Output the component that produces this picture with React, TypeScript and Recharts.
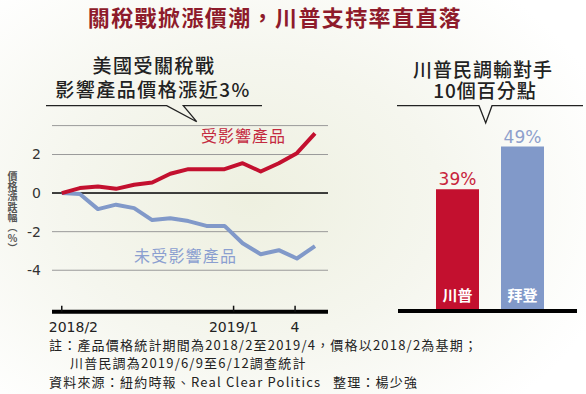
import React from 'react'
import {
  LineChart,
  Line,
  XAxis,
  YAxis,
  CartesianGrid,
  ReferenceLine,
  BarChart,
  Bar,
  Cell,
  LabelList,
} from 'recharts'

// Monthly price index change (%), base 2018/2
const months = [
  '2018/2', '2018/3', '2018/4', '2018/5', '2018/6', '2018/7', '2018/8', '2018/9',
  '2018/10', '2018/11', '2018/12', '2019/1', '2019/2', '2019/3', '2019/4',
]
const affected = [0, 0.26, 0.34, 0.22, 0.43, 0.55, 1.0, 1.24, 1.24, 1.24, 1.55, 1.12, 1.55, 2.07, 3.1]
const unaffected = [0, -0.05, -0.83, -0.6, -0.78, -1.4, -1.3, -1.45, -1.7, -1.7, -2.6, -3.17, -2.96, -3.39, -2.75]
const yTicks = [-4, -2, 0, 2]
// tick positions as drawn in the source graphic (month index)
const xTickPos = [0, 9.5, 12.9]
const xTickLabels = ['2018/2', '2019/1', '4']

// Poll
const candidates = ['川普', '拜登']
const support = [39, 49]

const RED = '#c3102f'
const BLUE = '#8199c9'
const CJK = '"Noto Sans CJK TC", "Noto Sans CJK SC", sans-serif'
const NUM = '"DejaVu Sans", sans-serif'

const lineData = months.map((m, i) => ({
  idx: i,
  month: m,
  affected: affected[i],
  unaffected: unaffected[i],
}))

const barData = candidates.map((name, i) => ({ name, value: support[i] }))
const barColors = [RED, BLUE]
const barLabelColors = ['#c8243c', '#8ea0cc']

function MonthTick(props: any) {
  const { x, y, payload } = props
  const i = xTickPos.indexOf(payload.value)
  const label = xTickLabels[i] ?? ''
  return (
    <g>
      <line x1={x} y1={y - 6} x2={x} y2={y} stroke="#111" strokeWidth={1.5} />
      <text
        x={i === 0 ? x - 13 : x}
        y={y + 20}
        textAnchor={i === 0 ? 'start' : 'middle'}
        fontFamily={NUM}
        fontSize={14}
        fill="#222"
      >
        {label}
      </text>
    </g>
  )
}

function ValueLabel(props: any) {
  const { x, y, width, value, index } = props
  const i = typeof index === 'number' ? index : support.indexOf(value)
  return (
    <text
      x={x + width / 2}
      y={y - 4}
      textAnchor="middle"
      fontFamily={NUM}
      fontSize={17}
      fill={barLabelColors[i] ?? RED}
    >
      {value}%
    </text>
  )
}

function PriceChart() {
  return (
    <div style={{ position: 'absolute', left: 0, top: 0 }}>
      <LineChart
        width={340}
        height={360}
        data={lineData}
        margin={{ top: 125.6, right: 12, bottom: 18.3, left: 0 }}
      >
        <CartesianGrid vertical={false} stroke="#9a9a9a" strokeWidth={1} />
        <XAxis
          dataKey="idx"
          type="number"
          domain={[-0.54, 14.72]}
          ticks={xTickPos}
          height={30}
          axisLine={{ stroke: '#000', strokeWidth: 4 }}
          tickLine={false}
          tickSize={0}
          tickMargin={0}
          tick={<MonthTick />}
          allowDataOverflow
        />
        <YAxis
          type="number"
          domain={[-6.15, 3.5]}
          ticks={yTicks}
          width={52}
          axisLine={false}
          tickLine={false}
          tickSize={0}
          tickMargin={11}
          tick={{ fontFamily: NUM, fontSize: 14, fill: '#333' }}
          allowDataOverflow
        />
        <ReferenceLine y={0} stroke="#111" strokeWidth={1.5} />
        <Line
          type="linear"
          dataKey="unaffected"
          stroke={BLUE}
          strokeWidth={4}
          strokeLinejoin="round"
          dot={false}
          isAnimationActive={false}
        />
        <Line
          type="linear"
          dataKey="affected"
          stroke={RED}
          strokeWidth={4}
          strokeLinejoin="round"
          dot={false}
          isAnimationActive={false}
        />
      </LineChart>
    </div>
  )
}

function PollChart() {
  return (
    <div style={{ position: 'absolute', left: 380, top: 0 }}>
      <BarChart
        width={206}
        height={360}
        data={barData}
        margin={{ top: 130, right: 9, bottom: 19, left: 18 }}
      >
        <XAxis
          dataKey="name"
          height={30}
          padding={{ left: 27, right: 22 }}
          axisLine={{ stroke: '#000', strokeWidth: 4 }}
          tickLine={false}
          tick={false}
        />
        <YAxis hide domain={[10.4, 52.9]} allowDataOverflow />
        <Bar dataKey="value" barSize={43} isAnimationActive={false}>
          {barData.map((d, i) => (
            <Cell key={d.name} fill={barColors[i]} />
          ))}
          <LabelList dataKey="value" content={<ValueLabel />} />
          <LabelList
            dataKey="name"
            position="insideBottom"
            offset={10}
            fill="#fff"
            fontFamily={CJK}
            fontWeight={700}
            fontSize={15}
          />
        </Bar>
      </BarChart>
    </div>
  )
}

const textBase: React.CSSProperties = {
  position: 'absolute',
  fontFamily: CJK,
  whiteSpace: 'nowrap',
}

const heading: React.CSSProperties = {
  ...textBase,
  textAlign: 'center',
  fontSize: 19,
  lineHeight: '20px',
  fontWeight: 500,
  color: '#222',
}

const note: React.CSSProperties = {
  ...textBase,
  fontSize: 13,
  lineHeight: '15px',
  letterSpacing: 1.2,
  color: '#222',
}

export default function App() {
  return (
    <div
      style={{
        position: 'absolute',
        left: 0,
        top: 0,
        width: 586,
        height: 394,
        overflow: 'hidden',
        background:
          'radial-gradient(ellipse 380px 280px at 250px 200px, #eef0e0 0%, #f5f6ee 50%, #ffffff 100%)',
      }}
    >
      {/* main title */}
      <div
        style={{
          ...textBase,
          left: 0,
          width: 550,
          top: 2,
          textAlign: 'center',
          fontSize: 22,
          lineHeight: '28px',
          fontWeight: 700,
          letterSpacing: 1.4,
          color: '#8e1b2b',
        }}
      >
        關稅戰掀漲價潮，川普支持率直直落
      </div>

      {/* left heading */}
      <div style={{ ...heading, left: 0, width: 308, top: 55, letterSpacing: 1.5 }}>
        美國受關稅戰
      </div>
      <div style={{ ...heading, left: 0, width: 306, top: 79, letterSpacing: 1.5 }}>
        影響產品價格漲近3%
      </div>

      {/* right heading */}
      <div style={{ ...heading, left: 380, width: 206, top: 59, letterSpacing: 1 }}>
        川普民調輸對手
      </div>
      <div style={{ ...heading, left: 382, width: 206, top: 80, letterSpacing: 1 }}>
        10個百分點
      </div>

      <PriceChart />
      <PollChart />

      {/* callout rules */}
      <svg
        width={586}
        height={394}
        style={{ position: 'absolute', left: 0, top: 0, pointerEvents: 'none' }}
      >
        <path
          d="M46 105.7 H166.7 L196.7 121.7 L183.3 105.7 H262"
          fill="none"
          stroke="#222"
          strokeWidth={1.3}
        />
        <path
          d="M397 105.7 H479 L485.7 123 L492 105.7 H583"
          fill="none"
          stroke="#222"
          strokeWidth={1.3}
        />
      </svg>

      {/* series labels */}
      <div
        style={{
          ...textBase,
          left: 201,
          top: 124,
          fontSize: 16,
          lineHeight: '22px',
          letterSpacing: 1,
          color: '#c42a3f',
        }}
      >
        受影響產品
      </div>
      <div
        style={{
          ...textBase,
          left: 134,
          top: 244,
          fontSize: 16,
          lineHeight: '22px',
          letterSpacing: 1.2,
          color: '#8b9fd0',
        }}
      >
        未受影響產品
      </div>

      {/* y axis title */}
      <div
        style={{
          ...textBase,
          left: 6,
          top: 171,
          fontSize: 10,
          lineHeight: '12px',
          fontWeight: 700,
          color: '#555',
          writingMode: 'vertical-rl',
          textOrientation: 'upright',
          letterSpacing: 0.3,
        }}
      >
        價格漲跌幅（%）
      </div>

      {/* notes */}
      <div style={{ ...note, left: 49, top: 337 }}>
        註：產品價格統計期間為2018/2至2019/4，價格以2018/2為基期；
      </div>
      <div style={{ ...note, left: 70, top: 355 }}>川普民調為2019/6/9至6/12調查統計</div>
      <div style={{ ...note, left: 49, top: 374 }}>資料來源：紐約時報、Real Clear Politics</div>
      <div style={{ ...note, left: 333, top: 374 }}>整理：楊少強</div>
    </div>
  )
}
